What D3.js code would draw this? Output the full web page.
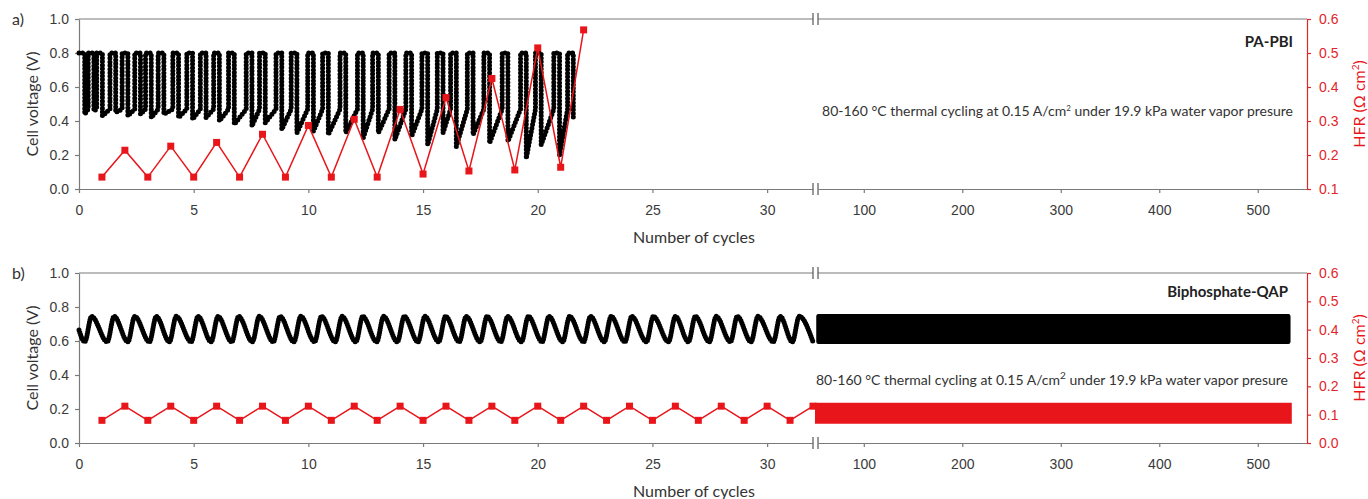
<!DOCTYPE html>
<html>
<head>
<meta charset="utf-8">
<script src="https://cdn.jsdelivr.net/npm/d3@7"></script>
<style>
  body { margin: 0; background: #fff; }
  svg { font-family: Lato, 'Open Sans', sans-serif; }
  .tick text { font-size: 14px; fill: #3a3a3a; }
  .axis path, .axis line { stroke: #7a7a7a; stroke-width: 1.2; }
  .hfr-axis path, .hfr-axis line { stroke: #e0262b; stroke-width: 1.2; }
  .hfr-axis .tick text { fill: #e0262b; }
  .label { font-size: 16px; fill: #333; }
  .note { font-size: 14px; fill: #333; }
  .name { font-size: 15px; font-weight: bold; fill: #222; }
</style>
</head>
<body>
<svg width="1368" height="499"></svg>
<script>
// tick labels
const ticksLeftX = [0, 5, 10, 15, 20, 25, 30];
const ticksRightX = [100, 200, 300, 400, 500];
const voltTicks = [0, 0.2, 0.4, 0.6, 0.8, 1.0];
const hfrTicksA = [0.1, 0.2, 0.3, 0.4, 0.5, 0.6];
const hfrTicksB = [0, 0.1, 0.2, 0.3, 0.4, 0.5, 0.6];

// a) PA-PBI : HFR per cycle
const hfrCyclesA = [1, 2, 3, 4, 5, 6, 7, 8, 9, 10, 11, 12, 13, 14, 15, 16, 17, 18, 19, 20, 21, 22];
const hfrA = [0.135, 0.214, 0.135, 0.226, 0.135, 0.237, 0.135, 0.261, 0.135, 0.287, 0.135,
              0.305, 0.135, 0.334, 0.144, 0.369, 0.153, 0.425, 0.156, 0.515, 0.164, 0.568];

// a) PA-PBI : voltage dips (cycle where the 0.8 V plateau starts, lowest voltage of the dip)
const dipStartA = [0.0, 0.4, 0.77, 1.35, 1.88, 2.43, 2.9, 3.45, 4.09, 4.7, 5.29, 5.87, 6.52, 7.29,
                   7.87, 8.59, 9.25, 9.97, 10.62, 11.38, 12.14, 12.8, 13.52, 14.25, 14.95, 15.62,
                   16.2, 16.93, 17.65, 18.45, 19.25, 19.9, 20.7, 21.3];
const dipLowA = [0.44, 0.46, 0.43, 0.45, 0.43, 0.44, 0.42, 0.44, 0.42, 0.41, 0.42, 0.40, 0.38, 0.37,
                 0.39, 0.35, 0.33, 0.34, 0.32, 0.33, 0.30, 0.33, 0.29, 0.31, 0.26, 0.33,
                 0.25, 0.32, 0.27, 0.28, 0.18, 0.26, 0.20, 0.42];
const dipTopA = 0.8;
const dipMidA = 0.47;
const dipWidthA = 0.25;

// b) Biphosphate-QAP : HFR per cycle
const hfrCyclesB = [1, 2, 3, 4, 5, 6, 7, 8, 9, 10, 11, 12, 13, 14, 15, 16,
                    17, 18, 19, 20, 21, 22, 23, 24, 25, 26, 27, 28, 29, 30, 31, 32];
const hfrB = [0.08, 0.13, 0.08, 0.13, 0.08, 0.13, 0.08, 0.13, 0.08, 0.13, 0.08, 0.13, 0.08, 0.13, 0.08, 0.13,
              0.08, 0.13, 0.08, 0.13, 0.08, 0.13, 0.08, 0.13, 0.08, 0.13, 0.08, 0.13, 0.08, 0.13, 0.08, 0.13];

// b) Biphosphate-QAP : voltage wave peaks (cycle)
const peaksB = [0.55, 1.53, 2.43, 3.37, 4.24, 5.19, 6.06, 6.96, 7.86, 8.77, 9.67, 10.57, 11.47, 12.37,
                13.28, 14.18, 15.08, 15.98, 16.88, 17.79, 18.69, 19.59, 20.49, 21.39, 22.3, 23.2,
                24.1, 25.04, 26.0, 26.87, 27.78, 28.7, 29.6, 30.57, 31.4];
const waveHighB = 0.745;
const waveLowB = 0.595;
const waveStartB = 0.665;
const waveRiseB = 0.3;
const waveEndB = 32;

// b) cycles 54-531 shown as envelopes
const bandCyclesB = [54, 531];
const bandVoltB = [0.595, 0.745];
const bandHfrB = [0.08, 0.13];

const red = '#e8161b';
const svg = d3.select('svg');

const xL = d3.scaleLinear().domain([0, 32]).range([79, 813]);
const xR = d3.scaleLinear().domain([53.5, 550]).range([818, 1307]);

function drawPanel(top, letter, hfrTicks, hfrDomain) {
  const bottom = top + 170;
  const y = d3.scaleLinear().domain([0, 1]).range([bottom, top]);
  const y2 = d3.scaleLinear().domain(hfrDomain).range([bottom, top]);
  const g = svg.append('g');

  // frame top line + break marks
  g.append('line').attr('x1', 79).attr('x2', 813).attr('y1', top).attr('y2', top)
    .attr('stroke', '#7a7a7a').attr('stroke-width', 1.2);
  g.append('line').attr('x1', 818).attr('x2', 1307).attr('y1', top).attr('y2', top)
    .attr('stroke', '#7a7a7a').attr('stroke-width', 1.2);
  [top, bottom].forEach(yy => {
    [813, 818].forEach(xx => {
      g.append('line').attr('x1', xx).attr('x2', xx).attr('y1', yy - 6).attr('y2', yy + 6)
        .attr('stroke', '#555').attr('stroke-width', 1.2);
    });
  });

  g.append('g').attr('class', 'axis')
    .attr('transform', `translate(0, ${bottom})`)
    .call(d3.axisBottom(xL).tickValues(ticksLeftX).tickSize(4).tickSizeOuter(0).tickPadding(12));
  g.append('g').attr('class', 'axis')
    .attr('transform', `translate(0, ${bottom})`)
    .call(d3.axisBottom(xR).tickValues(ticksRightX).tickSize(4).tickSizeOuter(0).tickPadding(12));

  g.append('g').attr('class', 'axis')
    .attr('transform', 'translate(79, 0)')
    .call(d3.axisLeft(y).tickValues(voltTicks).tickFormat(d3.format('.1f'))
      .tickSize(4).tickSizeOuter(0).tickPadding(6));

  g.append('g').attr('class', 'hfr-axis')
    .attr('transform', 'translate(1307, 0)')
    .call(d3.axisRight(y2).tickValues(hfrTicks).tickFormat(d3.format('.1f'))
      .tickSize(4).tickSizeOuter(0).tickPadding(8));

  svg.append('text').attr('class', 'label')
    .attr('x', 12).attr('y', top + 6).text(letter);

  svg.append('text').attr('class', 'label')
    .attr('text-anchor', 'middle')
    .attr('transform', `translate(38, ${top + 85}) rotate(-90)`)
    .text('Cell voltage (V)');

  const hfrLabel = svg.append('text').attr('class', 'label')
    .attr('text-anchor', 'middle')
    .attr('fill', red).style('fill', red)
    .attr('transform', `translate(1365, ${top + 85}) rotate(-90)`);
  hfrLabel.append('tspan').text('HFR (Ω cm');
  hfrLabel.append('tspan').attr('baseline-shift', 'super').attr('font-size', 10).text('2');
  hfrLabel.append('tspan').text(')');

  svg.append('text').attr('class', 'label')
    .attr('text-anchor', 'middle')
    .attr('x', 694).attr('y', bottom + 54)
    .text('Number of cycles');

  return { g, y, y2 };
}

// ---------- panel a ----------
const pa = drawPanel(19, 'a)', hfrTicksA, [0.1, 0.6]);

const voltA = [[0, dipTopA]];
dipStartA.forEach((c, i) => {
  if (i > 0) {
    voltA.push([c, dipMidA]);
    voltA.push([c, dipTopA]);
  }
  voltA.push([c + dipWidthA, dipTopA]);
  voltA.push([c + dipWidthA, dipLowA[i]]);
});

pa.g.append('path')
  .datum(voltA)
  .attr('fill', 'none')
  .attr('stroke', '#000')
  .attr('stroke-width', 5)
  .attr('stroke-linecap', 'round')
  .attr('stroke-dasharray', '0 3.6')
  .attr('d', d3.line().x(d => xL(d[0])).y(d => pa.y(d[1])));

const hfrPtsA = hfrCyclesA.map((c, i) => [c, hfrA[i]]);
pa.g.append('path')
  .datum(hfrPtsA)
  .attr('fill', 'none').attr('stroke', red).attr('stroke-width', 1.5)
  .attr('d', d3.line().x(d => xL(d[0])).y(d => pa.y2(d[1])));
pa.g.selectAll('.sqA').data(hfrPtsA).enter().append('rect')
  .attr('x', d => xL(d[0]) - 3.5).attr('y', d => pa.y2(d[1]) - 3.5)
  .attr('width', 7).attr('height', 7).attr('fill', red);

svg.append('text').attr('class', 'name')
  .attr('text-anchor', 'end').attr('x', 1293).attr('y', 47).text('PA-PBI');
const noteA = svg.append('text').attr('class', 'note')
  .attr('text-anchor', 'end').attr('x', 1293).attr('y', 116);
noteA.append('tspan').text('80-160 °C thermal cycling at 0.15 A/cm');
noteA.append('tspan').attr('baseline-shift', 'super').attr('font-size', 8).text('2');
noteA.append('tspan').text(' under 19.9 kPa water vapor presure');

// ---------- panel b ----------
const pb = drawPanel(273, 'b)', hfrTicksB, [0, 0.6]);

const voltB = [[0, waveStartB]];
peaksB.forEach(p => {
  voltB.push([p - waveRiseB, waveLowB]);
  voltB.push([p, waveHighB]);
});
voltB.push([waveEndB, waveLowB]);

pb.g.append('path')
  .datum(voltB)
  .attr('fill', 'none')
  .attr('stroke', '#000')
  .attr('stroke-width', 5)
  .attr('stroke-linecap', 'round')
  .attr('stroke-linejoin', 'round')
  .attr('stroke-dasharray', '0 2.4')
  .attr('d', d3.line().curve(d3.curveMonotoneX).x(d => xL(d[0])).y(d => pb.y(d[1])));

const bandArea = (yScale, vals) => d3.area()
  .x(d => xR(d))
  .y0(yScale(vals[0]))
  .y1(yScale(vals[1]))(bandCyclesB);

pb.g.append('path')
  .attr('d', bandArea(pb.y, bandVoltB))
  .attr('fill', '#000').attr('stroke', '#000').attr('stroke-width', 4.5)
  .attr('stroke-linejoin', 'round');

const hfrPtsB = hfrCyclesB.map((c, i) => [c, hfrB[i]]);
pb.g.append('path')
  .datum(hfrPtsB)
  .attr('fill', 'none').attr('stroke', red).attr('stroke-width', 1.5)
  .attr('d', d3.line().x(d => xL(d[0])).y(d => pb.y2(d[1])));
pb.g.selectAll('.sqB').data(hfrPtsB).enter().append('rect')
  .attr('x', d => xL(d[0]) - 3.5).attr('y', d => pb.y2(d[1]) - 3.5)
  .attr('width', 7).attr('height', 7).attr('fill', red);

pb.g.append('path')
  .attr('d', bandArea(pb.y2, bandHfrB))
  .attr('fill', red).attr('stroke', red).attr('stroke-width', 7);

svg.append('text').attr('class', 'name')
  .attr('text-anchor', 'end').attr('x', 1288).attr('y', 297).text('Biphosphate-QAP');
const noteB = svg.append('text').attr('class', 'note')
  .attr('text-anchor', 'end').attr('x', 1288).attr('y', 385);
noteB.append('tspan').text('80-160 °C thermal cycling at 0.15 A/cm');
noteB.append('tspan').attr('baseline-shift', 'super').attr('font-size', 10).text('2');
noteB.append('tspan').text(' under 19.9 kPa water vapor presure');
</script>
</body>
</html>
